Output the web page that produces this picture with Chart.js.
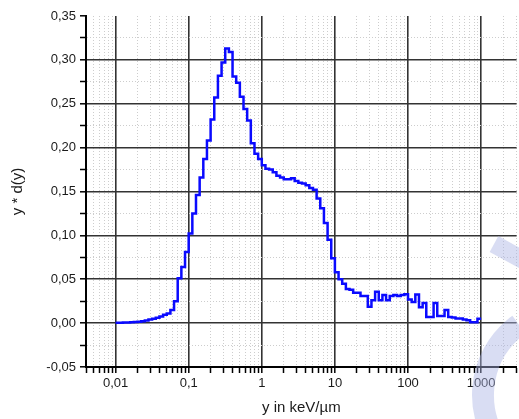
<!DOCTYPE html>
<html lang="de">
<head>
    <meta charset="UTF-8">
    <title>y * d(y)</title>
    <script src="https://cdn.jsdelivr.net/npm/chart.js"></script>
    <style>
        html, body { margin: 0; padding: 0; background: #fff; overflow: hidden; }
        canvas { display: block; }
    </style>
</head>
<body>
    <canvas id="spectrum" width="519" height="419"></canvas>

    <script>
        // Bin edges of the histogram (20 bins per decade), keV/µm
        const binEdges = [
            0.01, 0.01122, 0.01259, 0.01413, 0.01585, 0.01778, 0.01995, 0.02239, 0.02512, 0.02818,
            0.03162, 0.03548, 0.03981, 0.04467, 0.05012, 0.05623, 0.0631, 0.07079, 0.07943, 0.08913,
            0.1, 0.1122, 0.1259, 0.1413, 0.1585, 0.1778, 0.1995, 0.2239, 0.2512, 0.2818,
            0.3162, 0.3548, 0.3981, 0.4467, 0.5012, 0.5623, 0.631, 0.7079, 0.7943, 0.8913,
            1, 1.122, 1.259, 1.413, 1.585, 1.778, 1.995, 2.239, 2.512, 2.818,
            3.162, 3.548, 3.981, 4.467, 5.012, 5.623, 6.31, 7.079, 7.943, 8.913,
            10, 11.22, 12.59, 14.13, 15.85, 17.78, 19.95, 22.39, 25.12, 28.18,
            31.62, 35.48, 39.81, 44.67, 50.12, 56.23, 63.1, 70.79, 79.43, 89.13,
            100, 112.2, 125.9, 141.3, 158.5, 177.8, 199.5, 223.9, 251.2, 281.8,
            316.2, 354.8, 398.1, 446.7, 501.2, 562.3, 631, 707.9, 794.3, 891.3,
            1000
        ];

        // y * d(y) per bin (value of the bin starting at binEdges[i])
        const yValues = [
            0.0005, 0.0005, 0.0006, 0.0008, 0.001, 0.0012, 0.0015, 0.0022, 0.003, 0.004,
            0.005, 0.006, 0.0075, 0.0095, 0.011, 0.015, 0.025, 0.051, 0.064, 0.081,
            0.102, 0.125, 0.146, 0.166, 0.187, 0.208, 0.232, 0.257, 0.282, 0.297,
            0.313, 0.309, 0.281, 0.274, 0.258, 0.244, 0.231, 0.205, 0.193, 0.187,
            0.180, 0.176, 0.175, 0.172, 0.168, 0.166, 0.164, 0.164, 0.165, 0.162,
            0.160, 0.159, 0.157, 0.154, 0.152, 0.142, 0.131, 0.114, 0.095, 0.074,
            0.058, 0.050, 0.045, 0.039, 0.038, 0.0345, 0.0345, 0.031, 0.031, 0.0186,
            0.026, 0.0357, 0.026, 0.032, 0.026, 0.031, 0.032, 0.031, 0.032, 0.033,
            0.027, 0.024, 0.0326, 0.018, 0.023, 0.007, 0.007, 0.023, 0.008, 0.008,
            0.015, 0.007, 0.0065, 0.0053, 0.0053, 0.0042, 0.0034, 0.001, 0.001, 0.005
        ];

        // Axis ticks
        const xMajorTicks = [0.01, 0.1, 1, 10, 100, 1000];
        const xTickLabels = ['0,01', '0,1', '1', '10', '100', '1000'];
        const xMin = 0.00394;
        const xMax = 3059;
        const yMin = -0.05;
        const yMax = 0.35;

        const FONT = '"Liberation Sans", Arial, sans-serif';
        const MAJOR_GRID = '#333333';
        const MINOR_GRID = '#cdcdcd';

        const points = binEdges.map((x, i) => ({ x: x, y: yValues[Math.min(i, yValues.length - 1)] }));

        function isDecade(v) {
            const l = Math.log10(v);
            return Math.abs(l - Math.round(l)) < 1e-6;
        }
        function isYMajor(v) {
            return Math.abs(Math.round(v * 1000) % 50) === 0;
        }
        function yLabel(v) {
            if (Math.abs(v) < 1e-9) v = 0;
            return v.toFixed(2).replace('.', ',');
        }

        // faint logo watermark in the lower right corner
        const watermark = {
            id: 'watermark',
            beforeDatasetsDraw(chart) {
                const ctx = chart.ctx;
                ctx.save();
                ctx.strokeStyle = 'rgba(170, 180, 228, 0.45)';
                ctx.lineWidth = 22;
                ctx.beginPath();
                ctx.arc(570, 395, 87, Math.PI * 0.78, Math.PI * 1.30);
                ctx.stroke();
                ctx.lineWidth = 18;
                ctx.beginPath();
                ctx.moveTo(494, 244);
                ctx.lineTo(545, 272);
                ctx.stroke();
                ctx.restore();
            }
        };

        new Chart(document.getElementById('spectrum'), {
            type: 'line',
            data: {
                datasets: [{
                    data: points,
                    borderColor: '#0a0aff',
                    borderWidth: 2.5,
                    pointRadius: 0,
                    stepped: true,
                    fill: false
                }]
            },
            options: {
                responsive: false,
                animation: false,
                layout: { padding: { top: 16, right: 0, left: 0, bottom: 0 } },
                plugins: {
                    legend: { display: false },
                    tooltip: { enabled: false }
                },
                scales: {
                    x: {
                        type: 'logarithmic',
                        min: xMin,
                        max: xMax,
                        afterBuildTicks(scale) {
                            const ticks = [];
                            for (let e = -3; e <= 3; e++) {
                                for (let m = 1; m <= 9; m++) {
                                    const v = parseFloat((m * Math.pow(10, e)).toPrecision(6));
                                    if (v >= xMin && v <= xMax) ticks.push({ value: v });
                                }
                            }
                            scale.ticks = ticks;
                        },
                        afterFit(scale) { scale.height = 52; },
                        ticks: {
                            autoSkip: false,
                            maxRotation: 0,
                            padding: 3,
                            color: '#1a1a1a',
                            font: { family: FONT, size: 13 },
                            callback: function (value) {
                                const idx = xMajorTicks.findIndex(t => Math.abs(t - value) / t < 1e-6);
                                return idx >= 0 ? xTickLabels[idx] : '';
                            }
                        },
                        grid: {
                            color: ctx => ctx.tick && isDecade(ctx.tick.value) ? MAJOR_GRID : MINOR_GRID,
                            lineWidth: ctx => ctx.tick && isDecade(ctx.tick.value) ? 1.6 : 1,
                            tickColor: '#000',
                            tickWidth: 1.5,
                            tickLength: 6
                        },
                        border: {
                            color: '#000',
                            width: 2,
                            dash: ctx => ctx.tick && !isDecade(ctx.tick.value) ? [1, 2] : []
                        },
                        title: {
                            display: true,
                            text: 'y in keV/µm',
                            color: '#1a1a1a',
                            font: { family: FONT, size: 15, lineHeight: 1.2 },
                            padding: { top: 0, bottom: 2 }
                        }
                    },
                    y: {
                        min: yMin,
                        max: yMax,
                        afterFit(scale) { scale.width = 86; },
                        ticks: {
                            stepSize: 0.025,
                            padding: 4,
                            color: '#1a1a1a',
                            font: { family: FONT, size: 13 },
                            callback: function (value) {
                                return isYMajor(value) ? yLabel(value) : '';
                            }
                        },
                        grid: {
                            color: ctx => {
                                if (!ctx.tick) return MAJOR_GRID;
                                if (Math.abs(ctx.tick.value - yMax) < 1e-6) return 'rgba(0,0,0,0)';
                                return isYMajor(ctx.tick.value) ? MAJOR_GRID : MINOR_GRID;
                            },
                            lineWidth: ctx => ctx.tick && isYMajor(ctx.tick.value) ? 1.6 : 1,
                            tickColor: '#000',
                            tickWidth: 1.5,
                            tickLength: 6
                        },
                        border: {
                            color: '#000',
                            width: 2,
                            dash: ctx => ctx.tick && !isYMajor(ctx.tick.value) ? [1, 2] : []
                        },
                        title: {
                            display: true,
                            text: 'y * d(y)',
                            color: '#1a1a1a',
                            font: { family: FONT, size: 15, lineHeight: 1.2 },
                            padding: { top: 9, bottom: 0 }
                        }
                    }
                }
            },
            plugins: [watermark]
        });
    </script>
</body>
</html>
